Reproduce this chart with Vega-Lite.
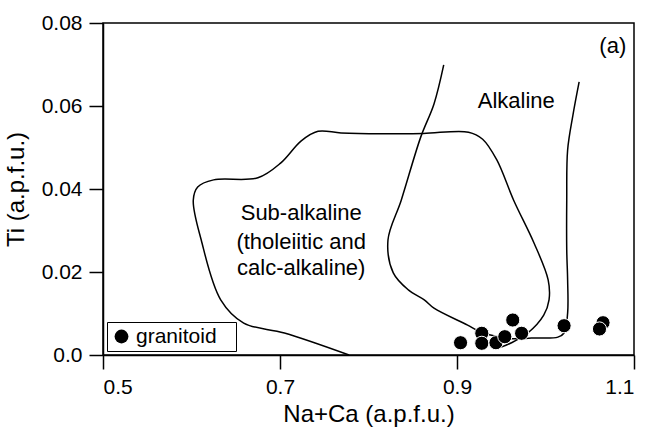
{
  "$schema": "https://vega.github.io/schema/vega-lite/v6.json",
  "width": 531,
  "height": 332,
  "autosize": "none",
  "padding": {"left": 103, "top": 23, "right": 12, "bottom": 74},
  "background": "white",
  "config": {
    "view": {"stroke": "black", "strokeWidth": 1.5},
    "font": "Liberation Sans",
    "axis": {
      "grid": false,
      "domainColor": "black",
      "domainWidth": 1.5,
      "tickColor": "black",
      "tickWidth": 1.5,
      "tickSize": 14,
      "labelFont": "Liberation Sans",
      "labelFontSize": 21,
      "labelColor": "black",
      "labelPadding": 7,
      "titleFont": "Liberation Sans",
      "titleFontSize": 24,
      "titleFontWeight": "normal",
      "titleColor": "black"
    }
  },
  "datasets": {
    "curves": [
      {"field": "sub", "ord": 1, "x": 0.778, "y": 0.0},
      {"field": "sub", "ord": 2, "x": 0.705, "y": 0.0053},
      {"field": "sub", "ord": 3, "x": 0.659, "y": 0.0077},
      {"field": "sub", "ord": 4, "x": 0.633, "y": 0.0133},
      {"field": "sub", "ord": 5, "x": 0.611, "y": 0.0277},
      {"field": "sub", "ord": 6, "x": 0.602, "y": 0.0373},
      {"field": "sub", "ord": 7, "x": 0.607, "y": 0.0405},
      {"field": "sub", "ord": 8, "x": 0.625, "y": 0.0422},
      {"field": "sub", "ord": 9, "x": 0.675, "y": 0.0427},
      {"field": "sub", "ord": 10, "x": 0.701, "y": 0.0463},
      {"field": "sub", "ord": 11, "x": 0.724, "y": 0.0516},
      {"field": "sub", "ord": 12, "x": 0.743, "y": 0.0539},
      {"field": "sub", "ord": 13, "x": 0.769, "y": 0.0535},
      {"field": "sub", "ord": 14, "x": 0.814, "y": 0.0533},
      {"field": "sub", "ord": 15, "x": 0.862, "y": 0.0534},
      {"field": "sub", "ord": 16, "x": 0.913, "y": 0.0537},
      {"field": "sub", "ord": 17, "x": 0.929, "y": 0.0520},
      {"field": "sub", "ord": 18, "x": 0.945, "y": 0.0470},
      {"field": "sub", "ord": 19, "x": 0.964, "y": 0.0373},
      {"field": "sub", "ord": 20, "x": 0.987, "y": 0.027},
      {"field": "sub", "ord": 21, "x": 1.003, "y": 0.0181},
      {"field": "sub", "ord": 22, "x": 1.004, "y": 0.0133},
      {"field": "sub", "ord": 23, "x": 0.998, "y": 0.0096},
      {"field": "sub", "ord": 24, "x": 0.98, "y": 0.0053},
      {"field": "sub", "ord": 25, "x": 0.961, "y": 0.0029},
      {"field": "sub", "ord": 26, "x": 0.95, "y": 0.0019},
      {"field": "alk", "ord": 1, "x": 0.885, "y": 0.0699},
      {"field": "alk", "ord": 2, "x": 0.874, "y": 0.0605},
      {"field": "alk", "ord": 3, "x": 0.859, "y": 0.0525},
      {"field": "alk", "ord": 4, "x": 0.837, "y": 0.0373},
      {"field": "alk", "ord": 5, "x": 0.822, "y": 0.0277},
      {"field": "alk", "ord": 6, "x": 0.828, "y": 0.0198},
      {"field": "alk", "ord": 7, "x": 0.845, "y": 0.0157},
      {"field": "alk", "ord": 8, "x": 0.863, "y": 0.0133},
      {"field": "alk", "ord": 9, "x": 0.874, "y": 0.0113},
      {"field": "alk", "ord": 10, "x": 0.912, "y": 0.0072},
      {"field": "alk", "ord": 11, "x": 0.927, "y": 0.0055},
      {"field": "alk", "ord": 12, "x": 0.95, "y": 0.0043},
      {"field": "alk", "ord": 13, "x": 0.967, "y": 0.0039},
      {"field": "alk", "ord": 14, "x": 0.984, "y": 0.0041},
      {"field": "alk", "ord": 15, "x": 1.014, "y": 0.0043},
      {"field": "alk", "ord": 16, "x": 1.021, "y": 0.0053},
      {"field": "alk", "ord": 17, "x": 1.025, "y": 0.0101},
      {"field": "alk", "ord": 18, "x": 1.025, "y": 0.0181},
      {"field": "alk", "ord": 19, "x": 1.024, "y": 0.0253},
      {"field": "alk", "ord": 20, "x": 1.024, "y": 0.0373},
      {"field": "alk", "ord": 21, "x": 1.025, "y": 0.0494},
      {"field": "alk", "ord": 22, "x": 1.031, "y": 0.0578},
      {"field": "alk", "ord": 23, "x": 1.038, "y": 0.0658}
    ],
    "pts": [
      {"type": "granitoid", "x": 0.904, "y": 0.00296},
      {"type": "granitoid", "x": 0.928, "y": 0.00523},
      {"type": "granitoid", "x": 0.928, "y": 0.00282},
      {"type": "granitoid", "x": 0.944, "y": 0.00296},
      {"type": "granitoid", "x": 0.954, "y": 0.00441},
      {"type": "granitoid", "x": 0.963, "y": 0.00843},
      {"type": "granitoid", "x": 0.973, "y": 0.00523},
      {"type": "granitoid", "x": 1.021, "y": 0.00706},
      {"type": "granitoid", "x": 1.065, "y": 0.00778},
      {"type": "granitoid", "x": 1.061, "y": 0.00627}
    ],
    "labels": [
      {"text": "Alkaline", "x": 0.967, "y": 0.0612},
      {"text": "Sub-alkaline", "x": 0.724, "y": 0.0342},
      {"text": "(tholeiitic and", "x": 0.724, "y": 0.0272},
      {"text": "calc-alkaline)", "x": 0.724, "y": 0.021},
      {"text": "(a)", "x": 1.076, "y": 0.0745}
    ]
  },
  "layer": [
    {
      "data": {"name": "curves"},
      "mark": {"type": "line", "interpolate": "catmull-rom", "color": "black", "strokeWidth": 1.5},
      "encoding": {
        "x": {
          "field": "x", "type": "quantitative",
          "scale": {"domain": [0.5, 1.1], "nice": false, "zero": false},
          "axis": {"values": [0.5, 0.7, 0.9, 1.1], "format": ".1f", "title": "Na+Ca (a.p.f.u.)", "titlePadding": 5}
        },
        "y": {
          "field": "y", "type": "quantitative",
          "scale": {"domain": [0, 0.08], "nice": false},
          "axis": {"values": [0, 0.02, 0.04, 0.06, 0.08], "labelExpr": "datum.value == 0 ? '0.0' : format(datum.value, '.2f')", "title": "Ti (a.p.f.u.)", "titlePadding": 13}
        },
        "detail": {"field": "field"},
        "order": {"field": "ord", "type": "quantitative"}
      }
    },
    {
      "data": {"name": "pts"},
      "mark": {"type": "point", "shape": "circle", "filled": true, "size": 200, "opacity": 1, "stroke": "white", "strokeWidth": 1},
      "encoding": {
        "x": {"field": "x", "type": "quantitative"},
        "y": {"field": "y", "type": "quantitative"},
        "fill": {
          "field": "type", "type": "nominal",
          "scale": {"range": ["black"]},
          "legend": {
            "orient": "none", "legendX": 4, "legendY": 299, "title": null,
            "strokeColor": "black", "padding": 4,
            "labelFontSize": 21, "labelFont": "Liberation Sans", "labelColor": "black",
            "symbolSize": 190, "symbolStrokeWidth": 0, "symbolType": "circle",
            "labelExpr": "datum.label + '\u2800'"
          }
        }
      }
    },
    {
      "data": {"name": "labels"},
      "mark": {"type": "text", "fontSize": 22, "font": "Liberation Sans", "color": "black", "align": "center", "baseline": "middle"},
      "encoding": {
        "x": {"field": "x", "type": "quantitative"},
        "y": {"field": "y", "type": "quantitative"},
        "text": {"field": "text"}
      }
    }
  ]
}
